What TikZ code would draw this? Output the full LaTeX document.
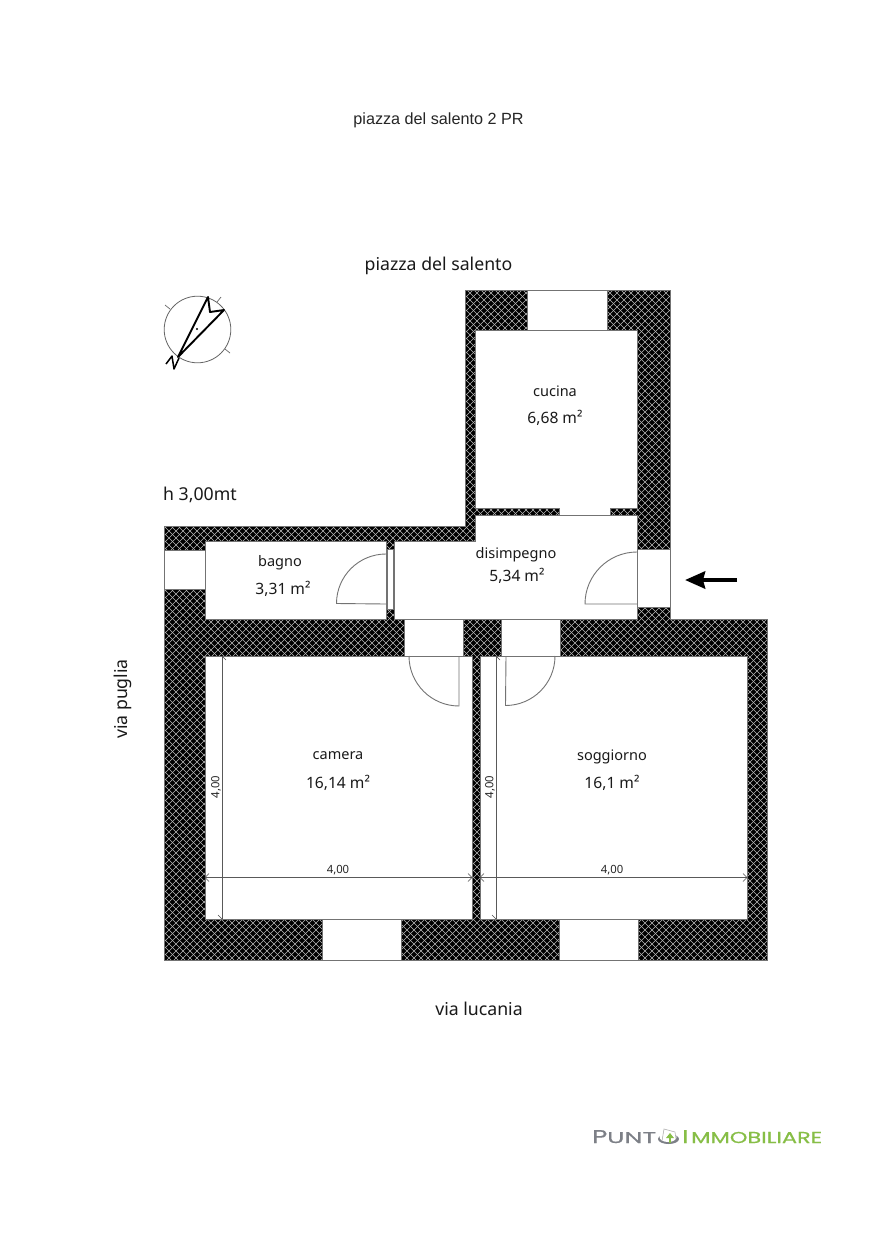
\documentclass[tikz,border=0pt]{standalone}
\usepackage{fontspec}
\setmainfont{Noto Sans}
\newfontfamily\arialf{Liberation Sans}
\newfontfamily\logof[FakeStretch=1.42,FakeBold=0.6]{Poppins}
\newfontfamily\logofb[FakeStretch=1.65,FakeBold=0.6]{Poppins}
\usetikzlibrary{arrows.meta}
\definecolor{wallline}{gray}{0.45}
\definecolor{hatchline}{gray}{0.72}
\definecolor{logogray}{RGB}{125,128,135}
\definecolor{logogreen}{RGB}{135,190,70}
\tikzset{
  roomfill/.style={fill=white,draw=wallline,line width=0.9pt},
  leaf/.style={draw=wallline,line width=0.9pt},
  dimline/.style={draw=black!65,line width=0.7pt},
  dimtick/.style={draw=black!70,line width=0.5pt},
  lab/.style={inner sep=0pt,text=black!90,font=\fontsize{14.5}{14.5}\selectfont},
  arealab/.style={inner sep=0pt,text=black!90,font=\fontsize{15.6}{15.6}\selectfont},
  streetlab/.style={inner sep=0pt,text=black!90,font=\fontsize{17.7}{17.7}\selectfont},
  dimlab/.style={inner sep=0pt,text=black!85,font=\fontsize{11.3}{11.3}\selectfont},
  compassline/.style={draw=black,line width=1.9pt,line join=round},
}
\begin{document}
\begin{tikzpicture}[x=1pt,y=-1pt]
\useasboundingbox (0,0) rectangle (877,1240);
\fill[white] (0,0) rectangle (877,1240);
% walls
\begin{scope}
\clip (465,290) -- (670,290) -- (670,619) -- (767,619) -- (767,960) -- (164,960) -- (164,526) -- (465,526) -- cycle;
\fill[black] (100,250) rectangle (800,1000);
\foreach \c in {0,7,...,1800} {
  \draw[hatchline,line width=0.65pt] (\c,0) -- ++(-1300,1300);
  \draw[hatchline,line width=0.65pt] (\c-1300,0) -- ++(1300,1300);
}
\end{scope}
\draw[wallline,line width=0.8pt] (465,290) -- (670,290) -- (670,619) -- (767,619) -- (767,960) -- (164,960) -- (164,526) -- (465,526) -- cycle;
% rooms
\draw[roomfill] (475,330) rectangle (637,508);
\draw[roomfill] (475,515) -- (637,515) -- (637,619) -- (394,619) -- (394,541) -- (475,541) -- cycle;
\draw[roomfill] (205,541) rectangle (386,619);
\draw[roomfill] (205,656) rectangle (472,919);
\draw[roomfill] (480,656) rectangle (747,919);
% openings
\draw[roomfill] (527,290) rectangle (607,330);
\draw[roomfill] (559,508) rectangle (610,515);
\draw[roomfill] (164,550) rectangle (205,589);
\draw[roomfill] (387,549) rectangle (393,609);
\draw[roomfill] (637,549) rectangle (670,607);
\draw[roomfill] (404,619) rectangle (463,656);
\draw[roomfill] (501,619) rectangle (560,656);
\draw[roomfill] (322,919) rectangle (401,960);
\draw[roomfill] (559,919) rectangle (638,960);
\fill[white] (559.5,507) rectangle (609.5,514.4);
% door leaves
\draw[leaf] (386,554) arc[start angle=270,end angle=180,radius=49.5] -- (386,604);
\draw[leaf] (637,552) arc[start angle=270,end angle=180,radius=52] -- (637,604);
\draw[leaf] (409,656) arc[start angle=180,end angle=90,radius=50] -- (459,656);
\draw[leaf] (555,656) arc[start angle=0,end angle=90,radius=49.5] -- (506,656);
% dimension lines
\draw[dimline] (222,656) -- (222,919);
\draw[dimline] (496,656) -- (496,919);
\draw[dimline] (205,877.5) -- (472,877.5);
\draw[dimline] (480,877.5) -- (747,877.5);
\foreach \x/\s in {205/1,472/-1,480/1,747/-1} {
  \draw[dimtick] (\x,877.5) -- ++(\s*4,-4);
  \draw[dimtick] (\x,877.5) -- ++(\s*4,4);
}
\foreach \x in {222,496} {
  \draw[dimtick] (\x,656) -- ++(4,4);
  \draw[dimtick] (\x,919) -- ++(-4,-4);
}
\node[dimlab,rotate=90] (d1) at (216,787) {4,00};
\node[dimlab,rotate=90] (d2) at (490,787) {4,00};
\node[dimlab] (d3) at (338,870) {4,00};
\node[dimlab] (d4) at (612,870) {4,00};
% room labels
\node[lab] (r1a) at (555,391) {cucina};
\node[arealab] (r1b) at (555,418) {6,68 m²};
\node[lab] (r2a) at (280,562.5) {bagno};
\node[arealab] (r2b) at (283,589) {3,31 m²};
\node[lab] (r3a) at (516,555) {disimpegno};
\node[arealab] (r3b) at (517,576) {5,34 m²};
\node[lab] (r4a) at (338,756) {camera};
\node[arealab] (r4b) at (338,783) {16,14 m²};
\node[lab] (r5a) at (612,757) {soggiorno};
\node[arealab] (r5b) at (612,783) {16,1 m²};
% street labels
\node[inner sep=0pt,text=black!85,font=\arialf\fontsize{16.2}{16.2}\selectfont] (title) at (438.5,120) {piazza del salento 2 PR};
\node[streetlab] (s1) at (438.5,266) {piazza del salento};
\node[streetlab] (s2) at (200,495) {h 3,00mt};
\node[streetlab,rotate=90] (s3) at (123,699) {via puglia};
\node[streetlab] (s4) at (479,1008.5) {via lucania};
% entrance arrow
\coordinate (ea) at (737,580);
\coordinate (eb) at (685,580);
\draw[black,line width=4.3pt,-{Stealth[length=20pt,width=17pt,inset=2pt]}] (ea) -- (eb);
% compass
\draw[draw=black!60,line width=0.8pt] (197.5,329.5) circle[radius=33.3];
\draw[draw=black!60,line width=0.7pt] (165,305) -- (170,309) (221,297) -- (217,302) (230,353) -- (225,349);
\fill[black] (197,329) circle[radius=1.1];
\draw[compassline] (178,357) -- (208,297) -- (210,312) -- (224,310) -- cycle;
\draw[compassline,line width=1.5pt] (166,364) -- (172,356) -- (174,369) -- (179,358);
% logo
\node[inner sep=0pt,anchor=base west,text=logogray,font=\logof\fontsize{18.5}{18.5}\selectfont] (lg1) at (592,1143) {P};
\node[inner sep=0pt,anchor=base west,text=logogray,font=\logofb\fontsize{15.5}{15.5}\selectfont] (lg2) at (607,1143) {UNT};
\fill[logogray] (668.5,1139) ellipse[x radius=10.5,y radius=5];
\fill[white] (668,1137) ellipse[x radius=8.5,y radius=5];
\draw[black!30,line width=0.6pt] (662,1141) -- (664,1129) -- (675,1132) -- (676,1139);
\draw[logogreen,line width=1.6pt] (670,1143) -- (670,1137);
\fill[logogreen] (670,1133) -- (674,1138) -- (666,1138) -- cycle;
\node[inner sep=0pt,anchor=base west,text=logogreen,font=\logof\fontsize{18.5}{18.5}\selectfont] (lg3) at (682,1143) {I};
\node[inner sep=0pt,anchor=base west,text=logogreen,font=\logof\fontsize{15.8}{15.8}\selectfont] (lg4) at (691,1143) {MMOBILIARE};
\end{tikzpicture}
\end{document}
